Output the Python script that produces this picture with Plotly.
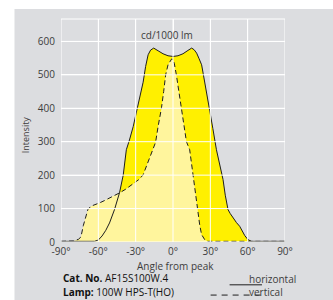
import plotly.graph_objects as go

# Horizontal plane (solid)
h_angle = [-90, -75, -63, -60, -57, -54, -51, -47, -43, -40, -37.5, -35, -32, -29, -26, -24, -22, -20, -18,
           -15.5, -12, -8, -4, 0, 4, 8, 12, 15, 17, 19, 21, 23, 24.2, 27, 29.5, 32, 34.9, 37.5, 40.2, 42,
           44.2, 46, 48.3, 51, 53.6, 56, 57.7, 60.3, 63, 90]
h_value = [2, 2, 2, 6, 18, 35, 57, 97, 147, 200, 276, 305, 345, 395, 445, 478, 525, 560, 574,
           580, 572, 563, 557, 555, 557, 563, 573, 580, 575, 565, 548, 530, 505, 450, 395, 340, 276, 235, 187, 140,
           97, 85, 72, 58, 47, 30, 19, 7, 2, 2]

# Vertical plane (dashed)
v_angle = [-90, -80, -76, -74, -72, -70, -68.4, -66, -62, -59, -55, -50, -45, -42.9, -38, -34, -30.8, -27, -24,
           -22, -20, -18, -16, -14, -12, -9.3, -7.5, -5.9, -4, -2, -1, 0, 1, 2.7, 4.7, 6.8, 8.8, 10.8, 13.4,
           15, 17, 20, 21.5, 23, 25.5, 28, 90]
v_value = [2, 3, 8, 15, 50, 80, 97, 107, 112, 117, 124, 133, 142, 147, 158, 168, 177, 188, 201,
           220, 245, 262, 278, 298, 345, 400, 450, 500, 530, 545, 548, 545, 535, 500, 450, 400, 350, 300, 276,
           230, 170, 97, 50, 22, 7, 2, 2]

x_ticks = [-90, -60, -30, 0, 30, 60, 90]
x_ticktext = ["-90°", "-60°", "-30°", "0°", "30°", "60°", "90°"]
y_ticks = [0, 100, 200, 300, 400, 500, 600]
y_max = 667

GRAY = "#dcdde0"
BRIGHT = "#fff000"
PALE = "#fff59d"
LINE = "#1e1e1e"
TXT = "#3c3c3c"
FONT = "Open Sans"

fig = go.Figure()
fig.add_trace(go.Scatter(x=h_angle, y=h_value, mode="lines", fill="tozeroy", fillcolor=BRIGHT,
                         line=dict(width=0), hoverinfo="skip", showlegend=False))
fig.add_trace(go.Scatter(x=v_angle, y=v_value, mode="lines", fill="tozeroy", fillcolor=PALE,
                         line=dict(width=0), hoverinfo="skip", showlegend=False))
fig.add_trace(go.Scatter(x=h_angle, y=h_value, mode="lines", line=dict(color=LINE, width=1),
                         name="horizontal", showlegend=False))
fig.add_trace(go.Scatter(x=v_angle, y=v_value, mode="lines", line=dict(color=LINE, width=1, dash="5px,3px"),
                         name="vertical", showlegend=False))

shapes = []
# gray panel
shapes.append(dict(type="rect", xref="paper", yref="paper", x0=-0.2076, x1=1.4, y0=-0.4, y1=1.0447,
                   fillcolor=GRAY, line=dict(width=0), layer="below"))
# gridlines drawn over fills
for xv in x_ticks:
    shapes.append(dict(type="line", xref="x", yref="paper", x0=xv, x1=xv, y0=0, y1=1,
                       line=dict(color="white", width=1), layer="above"))
for yv in y_ticks:
    shapes.append(dict(type="line", xref="paper", yref="y", x0=0, x1=1, y0=yv, y1=yv,
                       line=dict(color="white", width=1), layer="above"))
shapes.append(dict(type="line", xref="paper", yref="paper", x0=0, x1=1, y0=1, y1=1,
                   line=dict(color="white", width=1), layer="above"))
# legend samples
shapes.append(dict(type="line", xref="paper", yref="paper", x0=0.7527, x1=0.8973, y0=-0.192, y1=-0.192,
                   line=dict(color=LINE, width=1)))
shapes.append(dict(type="line", xref="paper", yref="paper", x0=0.668, x1=0.8973, y0=-0.238, y1=-0.238,
                   line=dict(color=LINE, width=1, dash="6px,5px")))

f = dict(family=FONT, color=TXT)
annotations = [
    dict(text="cd/1000 lm", x=0.475, y=0.93, xanchor="center", font=dict(size=10, **f)),
    dict(text="Angle from peak", x=0.509, y=-0.106, xanchor="center", font=dict(size=10, **f)),
    dict(text="Intensity", x=-0.161, y=0.483, xanchor="center", textangle=-90, font=dict(size=9, **f)),
    dict(text="<b>Cat. No.</b> AF15S100W.4", x=0.0, y=-0.162, xanchor="left",
         font=dict(size=10, family=FONT, color="#111")),
    dict(text="<b>Lamp:</b> 100W HPS-T(HO)", x=0.0, y=-0.226, xanchor="left",
         font=dict(size=10, family=FONT, color="#111")),
    dict(text="horizontal", x=0.829, y=-0.168, xanchor="left", font=dict(size=10, **f)),
    dict(text="vertical", x=0.829, y=-0.226, xanchor="left", font=dict(size=10, **f)),
]
for a in annotations:
    a.update(xref="paper", yref="paper", yanchor="middle", showarrow=False)

fig.update_layout(
    width=333, height=300,
    margin=dict(l=61, r=48, t=19, b=57.5),
    paper_bgcolor="white", plot_bgcolor=GRAY,
    shapes=shapes, annotations=annotations,
    showlegend=False,
    xaxis=dict(range=[-90, 90], tickvals=x_ticks, ticktext=x_ticktext, showgrid=True, gridcolor="white",
               gridwidth=1, zeroline=False, showline=False, ticks="", ticklabelstandoff=2,
               tickfont=dict(size=10, **f), fixedrange=True),
    yaxis=dict(range=[0, y_max], tickvals=y_ticks, showgrid=True, gridcolor="white", gridwidth=1,
               zeroline=False, showline=False, ticks="", ticklabelstandoff=5,
               tickfont=dict(size=10, **f), fixedrange=True),
)

fig.write_html("out.html", config={"displayModeBar": False},
               post_script="document.body.style.margin='0';")
